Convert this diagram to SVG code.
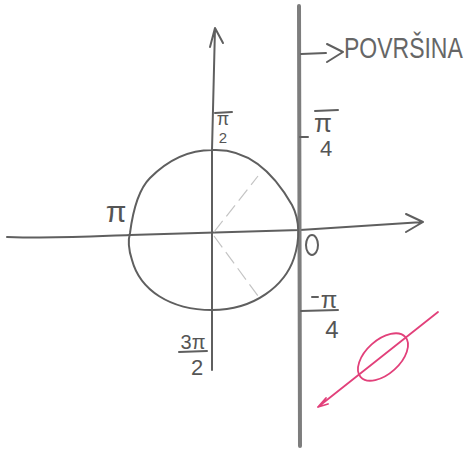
<svg xmlns="http://www.w3.org/2000/svg" width="471" height="452" viewBox="0 0 471 452">
<style>
.pen{fill:none;stroke:#5f5f5f;stroke-width:2;stroke-linecap:round;stroke-linejoin:round}
.faint{fill:none;stroke:#c4c4c4;stroke-width:1.2;stroke-dasharray:14 6}
.lbl{font-family:"Liberation Sans",Arial,sans-serif;fill:#555;text-anchor:middle}
.pink{fill:none;stroke:#e2407a;stroke-width:1.8;stroke-linecap:round}
</style>
<rect width="471" height="452" fill="#fff"/>
<g id="connectors">
  <path id="x-axis" class="pen" d="M7,237 C60,239 100,236 130,235 L300,230 L423,222 M406,214 L423,222 L406,232"/>
  <path id="y-axis" class="pen" d="M212,370 L212,150 L215,28 M210,47 L215,28 L223,43"/>
  <path id="surface" fill="none" stroke="#7d7d7d" stroke-width="4" stroke-linecap="round" d="M299,6 L300,446"/>
  <path id="faint1" class="faint" d="M214,232 L258,176"/>
  <path id="faint2" class="faint" d="M214,236 L258,296"/>
  <path id="tick-p4" class="pen" d="M300,137 L308,137"/>
  <path id="surface-arrow" class="pen" stroke-width="1.5" d="M301,54 L326,53 M327,44 L343,52 L327,62"/>
</g>
<g id="circle">
  <path class="pen" d="M212,150 C250,148 275,175 292,205 C300,220 300,240 294,258 C285,285 255,310 212,310 C170,310 140,290 132,260 C128,248 128,240 130,233 C133,210 138,190 150,178 C168,160 190,150 212,150 Z"/>
</g>
<g id="label-pi2">
  <path class="pen" stroke-width="1.3" d="M215,113 L232,112"/>
  <text class="lbl" x="223" y="125" font-size="18">π</text>
  <text class="lbl" x="223" y="143" font-size="15">2</text>
</g>
<g id="label-pi">
  <text class="lbl" x="116" y="222" font-size="30" fill="#888">π</text>
</g>
<g id="label-3pi2">
  <text class="lbl" x="193" y="349" font-size="20">3π</text>
  <path class="pen" stroke-width="1.3" d="M179,352 L207,351"/>
  <text class="lbl" x="197" y="375" font-size="22">2</text>
</g>
<g id="label-zero">
  <ellipse cx="312" cy="245" rx="6" ry="10" class="pen" stroke-width="1.6"/>
</g>
<g id="label-pi4">
  <path class="pen" stroke-width="1.3" d="M315,111 L338,110"/>
  <text class="lbl" x="323" y="132" font-size="26">π</text>
  <text class="lbl" x="326" y="156" font-size="22">4</text>
</g>
<g id="label-mpi4">
  <path class="pen" stroke-width="1.3" d="M312,297 L318,297 M301,311 L338,310"/>
  <text class="lbl" x="329" y="308" font-size="24">π</text>
  <text class="lbl" x="332" y="338" font-size="24">4</text>
</g>
<g id="label-povrsina">
  <text transform="translate(344,58) scale(1,1.3)" font-family="'Liberation Sans',Arial,sans-serif" font-size="23" fill="#666">POVRŠINA</text>
</g>
<g id="pink-sketch">
  <path class="pink" d="M318,407 L438,312 M318,407 L326,398 M318,407 L328,404"/>
  <ellipse class="pink" cx="383" cy="357" rx="30" ry="17" transform="rotate(-42 383 357)"/>
</g>
</svg>
